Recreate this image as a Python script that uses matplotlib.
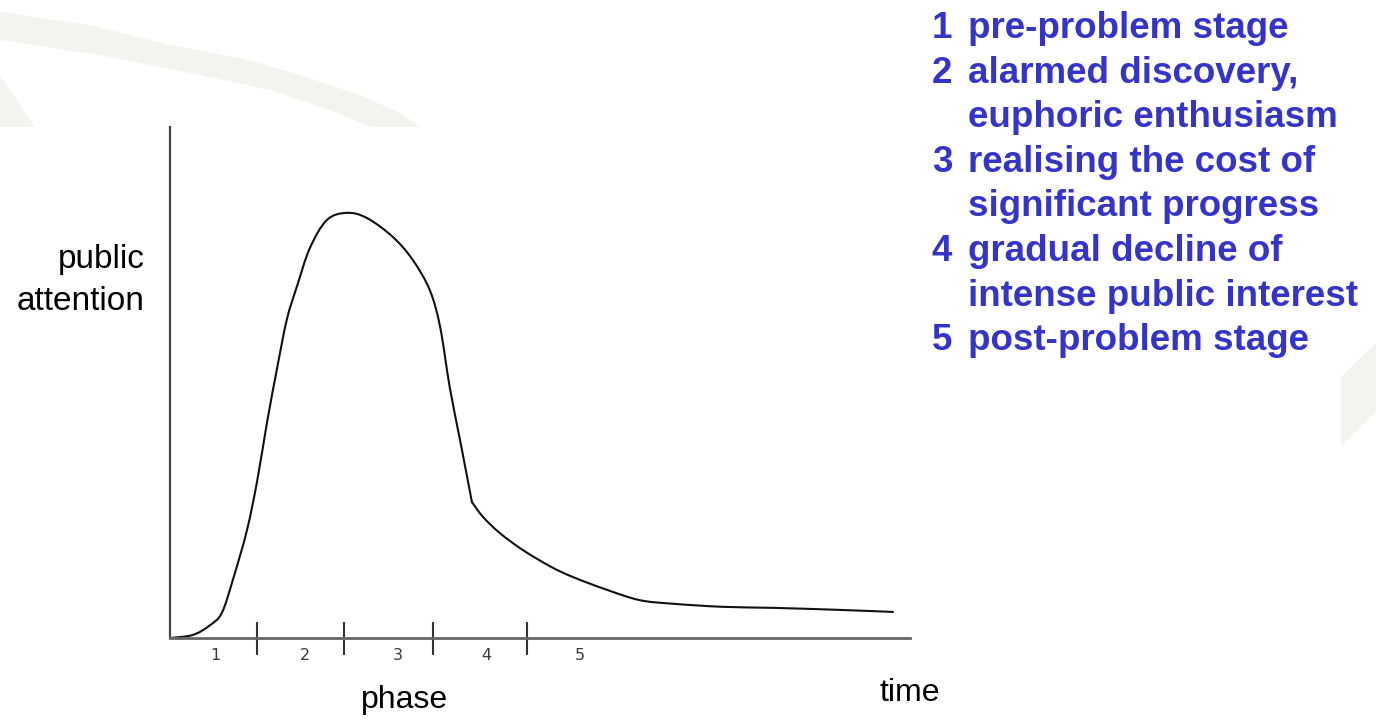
import numpy as np
import matplotlib
matplotlib.use("Agg")
import matplotlib.pyplot as plt
from matplotlib.patches import Polygon, PathPatch
from matplotlib.path import Path

# curve of public attention (time 0..100, attention 0..100)
time = [0, 3.1, 5.4, 7.0, 8.5, 10.4, 11.8, 13.1, 14.5, 15.8, 17.2, 18.9, 21.2,
        23.9, 26.6, 30.1, 32.8, 35.1, 36.5, 37.8, 39.2, 40.8, 42.3, 44.6, 47.7,
        51.4, 54.5, 59.1, 63.5, 68.0, 74.7, 81.5, 90.5, 97.7]
attention = [0, 0.6, 2.5, 4.9, 11.4, 21.1, 30.9, 42.1, 53.0, 62.4, 69.0, 76.3, 81.8,
             83.2, 82.2, 78.5, 74.0, 68.1, 60.9, 49.1, 38.7, 26.6, 23.7, 20.5, 17.2,
             14.0, 11.9, 9.4, 7.4, 6.7, 6.1, 5.9, 5.5, 5.1]
kink = 21  # sharp corner where the fast drop turns into the slow decline

phase_bounds = [11.8, 23.5, 35.5, 48.2]
phase_label_pos = [6.1, 18.2, 30.8, 42.8, 55.4]
phase_labels = ["1", "2", "3", "4", "5"]

legend_nums = ["1", "2", "", "3", "", "4", "", "5"]
legend_text = ["pre-problem stage", "alarmed discovery,", "euphoric enthusiasm",
               "realising the cost of", "significant progress",
               "gradual decline of", "intense public interest",
               "post-problem stage"]

narrow = ["Liberation Sans Narrow", "Liberation Sans", "DejaVu Sans"]
blue = "#3434c9"
bg_col = "#f4f4ee"


def smooth_path(xs, ys):
    """catmull-rom through the points, drawn as cubic bezier segments"""
    p = np.column_stack([xs, ys]).astype(float)
    p_ext = np.vstack([p[0], p, p[-1]])
    verts = [p[0]]
    codes = [Path.MOVETO]
    for i in range(1, len(p_ext) - 2):
        p0, p1, p2, p3 = p_ext[i - 1], p_ext[i], p_ext[i + 1], p_ext[i + 2]
        verts += [p1 + (p2 - p0) / 6., p2 - (p3 - p1) / 6., p2]
        codes += [Path.CURVE4] * 3
    return verts, codes


fig = plt.figure(figsize=(13.76, 7.2), dpi=100)

# background axes in pixel coordinates, for the slide decoration and the texts
bg = fig.add_axes([0, 0, 1, 1])
bg.set_xlim(0, 1376)
bg.set_ylim(720, 0)
bg.axis("off")

swoosh = [(0, 12), (90, 25), (170, 45), (240, 58), (300, 75), (360, 95), (400, 113), (420, 127),
          (370, 127), (330, 110), (270, 90), (200, 75), (100, 55), (0, 40)]
bg.add_patch(Polygon(swoosh, closed=True, fc=bg_col, ec="none"))
bg.add_patch(Polygon([(0, 75), (35, 127), (0, 127)], closed=True, fc=bg_col, ec="none"))
bg.add_patch(Polygon([(1341, 377), (1376, 343), (1376, 412), (1341, 447)], closed=True,
                     fc=bg_col, ec="none"))

# legend of the phases
base0 = 38
step = 44.6
for i, (n, t) in enumerate(zip(legend_nums, legend_text)):
    y = base0 + i * step
    if n:
        bg.text(932, y, n, color=blue, fontsize=26.5, fontweight="bold",
                family=["Liberation Sans", "DejaVu Sans"], va="baseline", ha="left")
    bg.text(968, y, t, color=blue, fontsize=26.5, fontweight="bold",
            family=["Liberation Sans", "DejaVu Sans"], va="baseline", ha="left")

bg.text(145, 268, "public", fontsize=24, family=narrow, ha="right", va="baseline")
bg.text(145, 310, "attention", fontsize=24, family=narrow, ha="right", va="baseline")
bg.text(405, 708, "phase", fontsize=23, family=narrow, ha="center", va="baseline")
bg.text(910, 701, "time", fontsize=23, family=narrow, ha="center", va="baseline")

# main plot
ax = fig.add_axes([170 / 1376, 82 / 720, 740 / 1376, 511 / 720])
ax.patch.set_alpha(0)
ax.set_xlim(0, 100)
ax.set_ylim(0, 100)
for s in ["top", "right"]:
    ax.spines[s].set_visible(False)
ax.spines["left"].set_color("#444444")
ax.spines["left"].set_linewidth(1.6)
ax.spines["bottom"].set_color("#666666")
ax.spines["bottom"].set_linewidth(2)
ax.set_xticks([])
ax.set_yticks([])

# two smooth pieces, joined at the kink
for a, b in [(0, kink + 1), (kink, len(time))]:
    verts, codes = smooth_path(time[a:b], attention[a:b])
    ax.add_patch(PathPatch(Path(verts, codes), fc="none", ec="#111111", lw=1.5,
                           joinstyle="round", capstyle="round"))

ax.vlines(phase_bounds, -3.3, 3.1, color="#333333", lw=1.5, clip_on=False)
for x, lab in zip(phase_label_pos, phase_labels):
    ax.text(x, -4.3, lab, fontsize=11.5, color="#3a3a3a", ha="center", va="baseline",
            family="DejaVu Sans")

plt.savefig("out.png", dpi=100)
